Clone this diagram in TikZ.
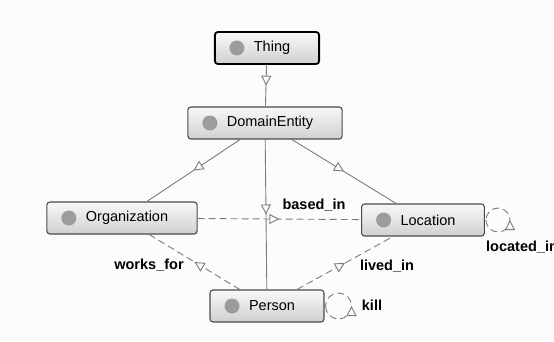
\documentclass[tikz,border=0pt]{standalone}
\usepackage{fontspec}
\setmainfont{Liberation Sans}
\usetikzlibrary{arrows.meta,decorations.markings}
\definecolor{edge}{HTML}{7C7C7C}
\definecolor{frame}{HTML}{4A4A4A}
\definecolor{dotgray}{HTML}{9C9C9C}
\definecolor{boxtop}{HTML}{F8F8F8}
\definecolor{boxbot}{HTML}{D0D0D0}
\definecolor{paper}{HTML}{FCFCFC}
\begin{document}
\begin{tikzpicture}[x=1pt, y=1pt,
  cls/.style={draw=frame, line width=1.1pt, rounded corners=3pt, top color=boxtop, bottom color=boxbot,
    font=\fontsize{14.5}{17}\selectfont, inner xsep=29pt, inner ysep=0pt, minimum height=32pt,
    path picture={\fill[dotgray] ([xshift=22pt]path picture bounding box.west) circle (7.5pt);}},
  sel/.style={cls, draw=black, line width=1.8pt},
  isa/.style={draw=edge, line width=0.9pt, postaction={decorate},
    decoration={markings, mark=at position 0.5 with {\arrow{Triangle[open, fill=paper, length=10pt, width=10pt, line width=0.9pt]}}}},
  rel/.style={isa, dash pattern=on 7pt off 4pt},
  lab/.style={font=\fontsize{14.5}{17}\selectfont\bfseries, inner sep=0pt},
]
\useasboundingbox (0,0) rectangle (554,-341);
\fill[paper] (0,0) rectangle (554,-341);
\node[sel] (thing) at (267,-48) {\hspace*{10pt}Thing};
\node[cls] (domain) at (265,-123) {\hspace*{10pt}DomainEntity};
\node[cls] (org) at (122,-218) {\hspace*{10pt}Organization};
\node[cls] (loc) at (423,-220) {\hspace*{10pt}Location};
\node[cls] (person) at (267,-306) {\hspace*{10pt}Person};
\draw[isa] (thing) -- (domain);
\draw[isa] (domain) -- (org);
\draw[isa] (domain) -- (loc);
\draw[isa] (domain) -- (person);
\draw[rel] (org) -- (loc);
\draw[rel] (person) -- (org);
\draw[rel] (person) -- (loc);
\draw[rel] ([xshift=1pt]person.east) arc[start angle=180, end angle=540, radius=13pt];
\draw[rel] ([xshift=1pt]loc.east) arc[start angle=180, end angle=540, radius=12pt];
\node[lab] (basedin) at (314,-205) {based\_in};
\node[lab] (worksfor) at (149,-265) {works\_for};
\node[lab] (livedin) at (387,-266) {lived\_in};
\node[lab] (kill) at (372,-305) {kill};
\node[lab, anchor=west] (locatedin) at (486,-247) {located\_in};
\end{tikzpicture}
\end{document}
